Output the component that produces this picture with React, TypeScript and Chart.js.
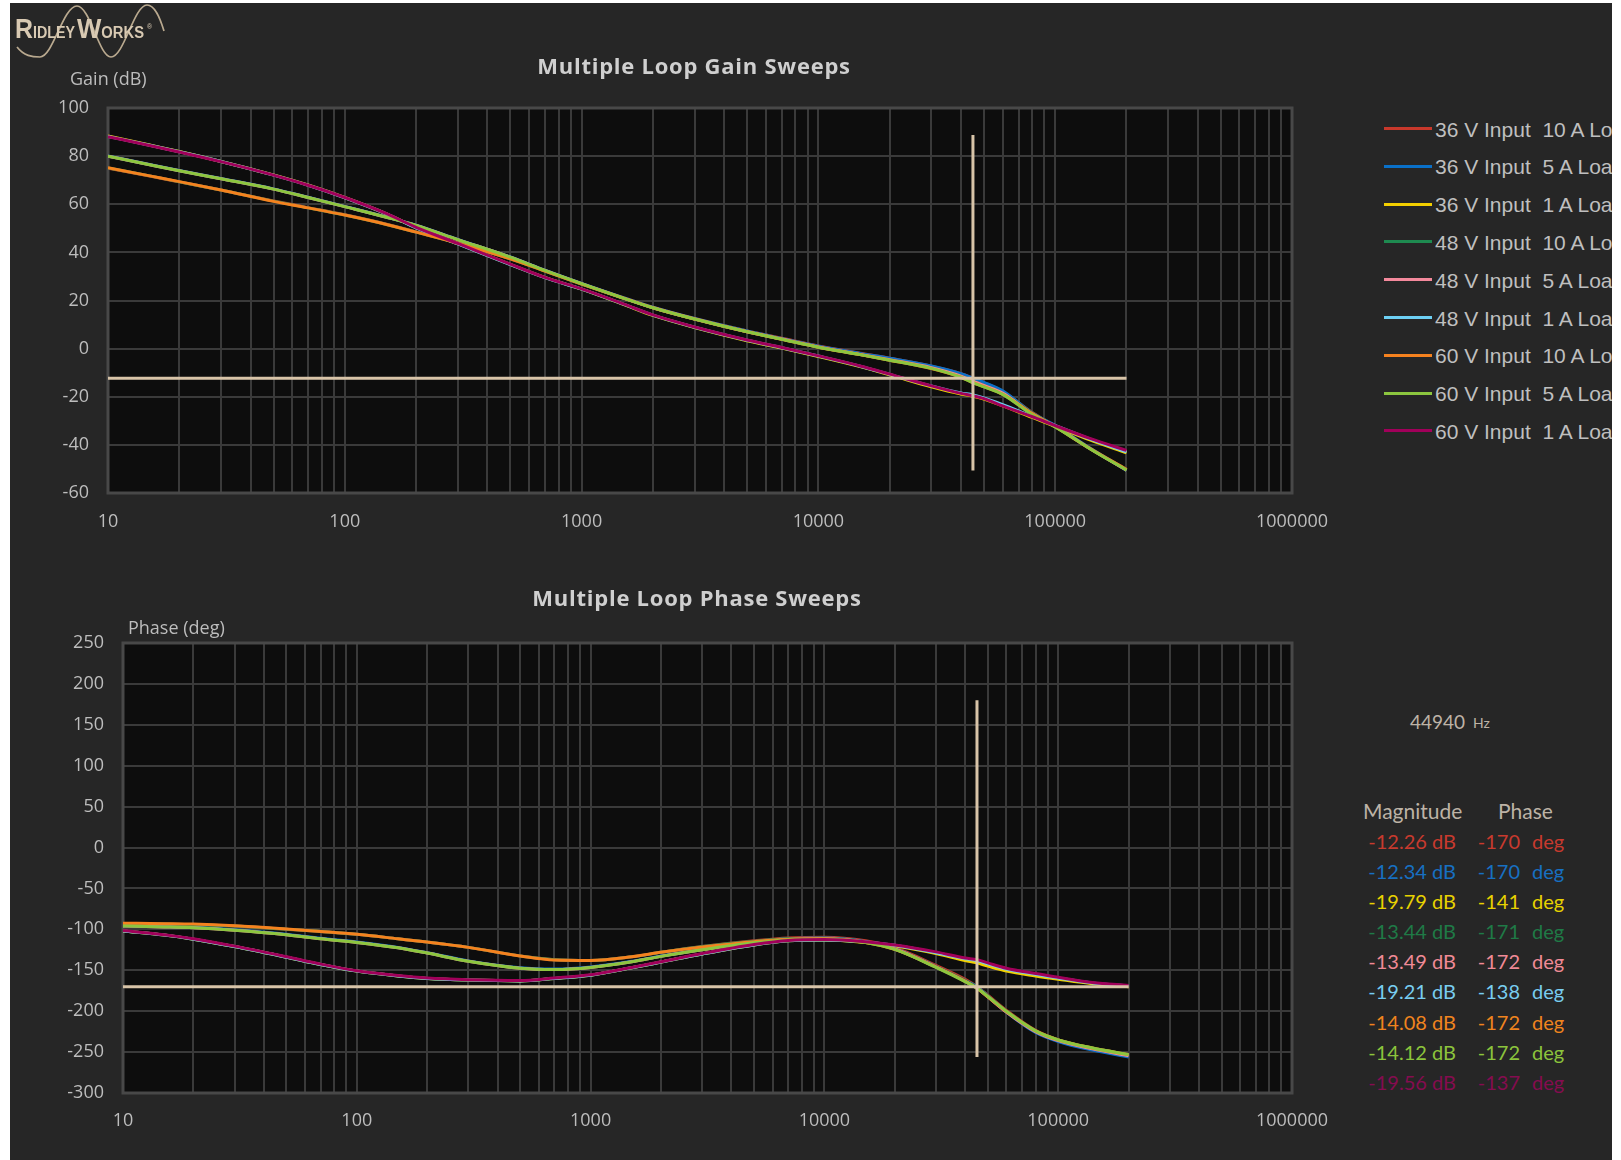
import React, { useEffect, useRef } from "react";
import { Chart, registerables } from "chart.js";

Chart.register(...registerables);

// ---------------- DATA ----------------
const FREQ_HZ = [10, 15, 20, 30, 50, 70, 100, 150, 200, 300, 500, 700, 1000, 1500, 2000, 3000, 5000, 7000, 10000, 15000, 20000, 30000, 40000, 44940, 50000, 60000, 80000, 100000, 140000, 200000];

const SERIES_LABELS = [
  "36 V Input  10 A Load",
  "36 V Input  5 A Load",
  "36 V Input  1 A Load",
  "48 V Input  10 A Load",
  "48 V Input  5 A Load",
  "48 V Input  1 A Load",
  "60 V Input  10 A Load",
  "60 V Input  5 A Load",
  "60 V Input  1 A Load",
];

const SERIES_COLORS = ["#c8382b", "#0a70c8", "#f3cf00", "#1e8a50", "#f4899c", "#6dd0f4", "#f5821f", "#8cc63f", "#a1005a"];
const READOUT_COLORS = ["#c83a2e", "#1770c2", "#e8d200", "#1f7a46", "#f08a96", "#78cdf0", "#f0841e", "#8cc43c", "#850c50"];

const GAIN_36V_10A = [75.0, 71.7, 69.3, 65.9, 61.4, 58.6, 55.6, 51.7, 48.5, 43.9, 37.4, 32.3, 26.9, 21.2, 17.2, 12.5, 7.3, 4.3, 1.1, -1.9, -4.0, -7.3, -10.4, -12.26, -14.2, -17.8, -26.5, -32.2, -41.3, -50.2];
const GAIN_36V_5A = [80.1, 76.5, 74.0, 70.7, 66.4, 62.9, 59.1, 54.7, 51.3, 45.4, 38.1, 32.6, 27.1, 21.2, 17.2, 12.5, 7.3, 4.2, 1.0, -2.0, -4.0, -7.2, -10.4, -12.34, -14.0, -17.5, -26.8, -32.0, -41.3, -50.6];
const GAIN_36V_1A = [88.4, 84.6, 81.9, 77.8, 72.2, 68.0, 62.8, 56.0, 50.3, 43.6, 35.0, 29.6, 24.7, 18.4, 13.8, 8.8, 3.3, 0.2, -3.3, -7.5, -10.9, -15.9, -18.9, -19.79, -21.0, -23.8, -28.6, -32.3, -37.9, -43.3];
const GAIN_48V_10A = [75.1, 71.8, 69.3, 65.9, 61.3, 58.5, 55.5, 51.6, 48.4, 43.8, 37.3, 32.2, 26.8, 21.0, 17.0, 12.3, 7.1, 4.0, 0.7, -2.4, -4.6, -8.0, -11.4, -13.44, -15.3, -18.6, -26.8, -32.4, -41.4, -50.3];
const GAIN_48V_5A = [80.0, 76.4, 73.9, 70.6, 66.3, 62.8, 59.0, 54.6, 51.2, 45.3, 38.0, 32.5, 27.0, 21.0, 17.0, 12.3, 7.0, 4.0, 0.7, -2.4, -4.6, -7.9, -11.4, -13.49, -15.3, -18.5, -27.2, -32.3, -41.5, -50.5];
const GAIN_48V_1A = [88.2, 84.5, 81.8, 77.8, 72.1, 67.9, 62.7, 56.0, 50.2, 43.5, 34.9, 29.5, 24.7, 18.5, 13.9, 8.9, 3.5, 0.4, -3.1, -7.3, -10.7, -15.5, -18.4, -19.21, -20.5, -23.3, -28.2, -31.9, -37.5, -42.9];
const GAIN_60V_10A = [75.2, 71.8, 69.4, 65.9, 61.2, 58.5, 55.5, 51.6, 48.4, 43.8, 37.3, 32.2, 26.8, 21.0, 17.0, 12.3, 7.0, 3.9, 0.6, -2.5, -4.8, -8.3, -11.9, -14.08, -15.8, -19.0, -27.0, -32.5, -41.5, -50.3];
const GAIN_60V_5A = [80.0, 76.4, 73.9, 70.6, 66.3, 62.8, 59.0, 54.6, 51.2, 45.3, 38.0, 32.5, 27.0, 21.0, 17.0, 12.3, 7.0, 3.9, 0.6, -2.5, -4.8, -8.2, -11.9, -14.12, -15.9, -19.0, -27.5, -32.5, -41.6, -50.5];
const GAIN_60V_1A = [88.1, 84.4, 81.7, 77.7, 72.1, 67.9, 62.8, 56.1, 50.4, 43.7, 35.1, 29.6, 24.8, 18.6, 14.0, 9.0, 3.6, 0.5, -3.0, -7.2, -10.6, -15.5, -18.6, -19.56, -20.8, -23.8, -28.3, -32.0, -37.3, -42.3];

const PHASE_36V_10A = [-93, -93.5, -94, -96, -100, -102.5, -106, -111.5, -115.5, -122, -132.5, -137, -138, -133.5, -128, -121, -114, -110.5, -109.5, -114, -122.5, -144, -161, -170, -180.5, -199, -223.5, -235, -245.5, -254];
const PHASE_36V_5A = [-95.5, -96.5, -97.5, -100.5, -106, -111, -115.5, -122, -128.5, -138.5, -147, -148.5, -146, -139, -132.5, -124.5, -115.5, -111.5, -110.5, -115, -123.5, -145.5, -163, -170, -181.5, -201, -226, -237, -247.5, -256];
const PHASE_36V_1A = [-102, -107, -112, -121, -134, -143, -151, -157, -160, -162, -163, -160, -156, -147, -140, -130, -119, -114, -113, -116, -120, -129.5, -138, -141, -145, -151, -157, -161, -166.5, -170];
const PHASE_48V_10A = [-93, -93.5, -94, -96, -100, -102.5, -106, -111.5, -115.5, -122, -132.5, -137, -138, -133.5, -128, -121, -114.5, -111.5, -111, -115.5, -124, -145.5, -162.5, -171, -181.5, -200, -224, -235, -245, -253.5];
const PHASE_48V_5A = [-96, -97, -98, -101, -106.5, -111.5, -116, -122.5, -129, -139, -147.5, -149, -146.5, -139.5, -133, -125, -116, -112.5, -111.5, -115.5, -124, -146, -163.5, -172, -182.5, -201, -225, -236, -246, -254.5];
const PHASE_48V_1A = [-102, -107, -112, -121, -134, -143, -151, -157, -160, -162, -163, -160, -156, -147, -140, -130, -119, -114, -113, -115.5, -119.5, -128.5, -136, -138, -142, -148.5, -155, -159.5, -165.5, -169];
const PHASE_60V_10A = [-92.5, -93, -93.5, -95.5, -99.5, -102.5, -106, -111.5, -115.5, -122, -132.5, -137.5, -138, -133.5, -128, -121.5, -115, -112, -111.5, -116, -124.5, -146, -163.5, -172, -182.5, -200.5, -224, -235, -245, -253];
const PHASE_60V_5A = [-96, -97, -98, -101, -106.5, -111.5, -116, -122.5, -129, -139, -147.5, -149, -146.5, -139.5, -133, -125, -116.5, -113, -112, -116, -124.5, -146.5, -164, -172, -182, -200, -224, -235, -245, -253];
const PHASE_60V_1A = [-101.5, -106.5, -111.5, -120.5, -133.5, -142.5, -150.5, -156.5, -159.5, -161.5, -162.5, -159.5, -155.5, -146.5, -139.5, -129.5, -118.5, -113.5, -112.5, -115, -119, -127.5, -135, -137, -141, -147.5, -154, -158.5, -165, -168.5];

const GAIN_SERIES = [GAIN_36V_10A, GAIN_36V_5A, GAIN_36V_1A, GAIN_48V_10A, GAIN_48V_5A, GAIN_48V_1A, GAIN_60V_10A, GAIN_60V_5A, GAIN_60V_1A];
const PHASE_SERIES = [PHASE_36V_10A, PHASE_36V_5A, PHASE_36V_1A, PHASE_48V_10A, PHASE_48V_5A, PHASE_48V_1A, PHASE_60V_10A, PHASE_60V_5A, PHASE_60V_1A];

const CURSOR_HZ = 44940;
const CURSOR_END_HZ = 200000;
const MAG_AT_CURSOR = ["-12.26", "-12.34", "-19.79", "-13.44", "-13.49", "-19.21", "-14.08", "-14.12", "-19.56"];
const PHASE_AT_CURSOR = ["-170", "-170", "-141", "-171", "-172", "-138", "-172", "-172", "-137"];
const GAIN_CURSOR_LEVEL = -12.26;
const PHASE_CURSOR_LEVEL = -170;
const GAIN_CURSOR_SPAN = [88.8, -50.6];
const PHASE_CURSOR_SPAN = [180, -256];

const X_MIN = 10;
const X_MAX = 1000000;
const X_LABEL_VALUES = [10, 100, 1000, 10000, 100000, 1000000];
const GAIN_AXIS = { min: -60, max: 100, step: 20 };
const PHASE_AXIS = { min: -300, max: 250, step: 50 };

// ---------------- STYLE ----------------
const PAGE_BG = "#262626";
const PLOT_BG = "#0d0d0d";
const GRID = "#3a3a3a";
const FRAME = "#484848";
const TICK = "#bdbdbd";
const CURSOR_COLOR = "#d8c4a8";
const SANS = "'Open Sans', 'Noto Sans', sans-serif";

function gridTicks(): number[] {
  const t: number[] = [];
  for (let d = X_MIN; d < X_MAX; d *= 10) for (let m = 1; m < 10; m++) t.push(m * d);
  t.push(X_MAX);
  return t;
}

const plotFrame = {
  id: "plotFrame",
  beforeDraw(chart: any) {
    const { ctx, chartArea } = chart;
    ctx.save();
    ctx.fillStyle = PLOT_BG;
    ctx.fillRect(chartArea.left, chartArea.top, chartArea.right - chartArea.left, chartArea.bottom - chartArea.top);
    ctx.restore();
  },
  beforeDatasetsDraw(chart: any) {
    const { ctx, chartArea } = chart;
    ctx.save();
    ctx.strokeStyle = FRAME;
    ctx.lineWidth = 3;
    ctx.strokeRect(chartArea.left, chartArea.top, chartArea.right - chartArea.left, chartArea.bottom - chartArea.top);
    ctx.restore();
  },
};

type Panel = {
  series: number[][];
  axis: { min: number; max: number; step: number };
  yAxisWidth: number;
  padTop: number;
  padRight: number;
  xAxisHeight: number;
  xTickPad: number;
  yTickPad: number;
  level: number;
  span: number[];
};

function buildChart(canvas: HTMLCanvasElement, p: Panel) {
  const datasets: any[] = p.series.map((vals, i) => ({
    label: SERIES_LABELS[i],
    data: FREQ_HZ.map((f, k) => ({ x: f, y: vals[k] })),
    borderColor: SERIES_COLORS[i],
    borderWidth: 3,
    pointRadius: 0,
    fill: false,
    cubicInterpolationMode: "monotone",
    order: 20 - i,
  }));
  datasets.push({
    label: "level",
    data: [{ x: X_MIN, y: p.level }, { x: CURSOR_END_HZ, y: p.level }],
    borderColor: CURSOR_COLOR,
    borderWidth: 3,
    pointRadius: 0,
    tension: 0,
    fill: false,
    order: 1,
  });
  datasets.push({
    label: "cursor",
    data: [{ x: CURSOR_HZ, y: p.span[0] }, { x: CURSOR_HZ, y: p.span[1] }],
    borderColor: CURSOR_COLOR,
    borderWidth: 3,
    pointRadius: 0,
    tension: 0,
    fill: false,
    order: 0,
  });
  const tickFont = { family: SANS, size: 18 };
  return new Chart(canvas, {
    type: "line",
    data: { datasets },
    options: {
      animation: false,
      responsive: false,
      maintainAspectRatio: false,
      events: [],
      layout: { padding: { left: 0, top: p.padTop, right: p.padRight, bottom: 0 } },
      plugins: { legend: { display: false }, tooltip: { enabled: false }, title: { display: false } },
      scales: {
        x: {
          type: "logarithmic",
          min: X_MIN,
          max: X_MAX,
          grid: { color: GRID, lineWidth: 2, drawTicks: false },
          border: { display: false },
          ticks: {
            autoSkip: false,
            maxRotation: 0,
            minRotation: 0,
            padding: p.xTickPad,
            color: TICK,
            font: tickFont,
            callback: (v: any) => (X_LABEL_VALUES.includes(Number(v)) ? String(v) : ""),
          },
          afterBuildTicks: (s: any) => {
            s.ticks = gridTicks().map((v) => ({ value: v }));
          },
          afterFit: (s: any) => {
            s.height = p.xAxisHeight;
            s.paddingLeft = 0;
            s.paddingRight = 0;
          },
        },
        y: {
          type: "linear",
          min: p.axis.min,
          max: p.axis.max,
          grid: { color: GRID, lineWidth: 2, drawTicks: false },
          border: { display: false },
          ticks: { stepSize: p.axis.step, padding: p.yTickPad, color: TICK, font: tickFont },
          afterFit: (s: any) => {
            s.width = p.yAxisWidth;
            s.paddingTop = 0;
            s.paddingBottom = 0;
          },
        },
      },
    } as any,
    plugins: [plotFrame as any],
  });
}

function Txt(props: { x: number; y: number; a?: "l" | "r" | "c"; s: React.CSSProperties; children: React.ReactNode }) {
  const a = props.a || "l";
  const tr = a === "l" ? "translateY(-50%)" : a === "r" ? "translate(-100%,-50%)" : "translate(-50%,-50%)";
  return (
    <div style={{ position: "absolute", left: props.x, top: props.y, transform: tr, whiteSpace: "pre", lineHeight: 1, ...props.s }}>
      {props.children}
    </div>
  );
}

export default function App() {
  const gainRef = useRef<HTMLCanvasElement>(null);
  const phaseRef = useRef<HTMLCanvasElement>(null);

  useEffect(() => {
    const g = buildChart(gainRef.current!, {
      series: GAIN_SERIES,
      axis: GAIN_AXIS,
      yAxisWidth: 108,
      padTop: 108,
      padRight: 53,
      xAxisHeight: 67,
      xTickPad: 18,
      yTickPad: 19,
      level: GAIN_CURSOR_LEVEL,
      span: GAIN_CURSOR_SPAN,
    });
    const ph = buildChart(phaseRef.current!, {
      series: PHASE_SERIES,
      axis: PHASE_AXIS,
      yAxisWidth: 123,
      padTop: 83,
      padRight: 53,
      xAxisHeight: 67,
      xTickPad: 17,
      yTickPad: 19,
      level: PHASE_CURSOR_LEVEL,
      span: PHASE_CURSOR_SPAN,
    });
    return () => {
      g.destroy();
      ph.destroy();
    };
  }, []);

  const label: React.CSSProperties = { fontFamily: SANS, fontSize: 18, color: TICK };
  const title: React.CSSProperties = { fontFamily: SANS, fontSize: 22, fontWeight: 700, color: "#cfcfcf", letterSpacing: 0.75 };
  const legendFont: React.CSSProperties = { fontFamily: "'Liberation Sans', Arial, sans-serif", fontSize: 21, color: "#bfbfbf" };
  const readFont = "Lato, 'Open Sans', sans-serif";
  const logoFont = "'Liberation Sans', Arial, sans-serif";

  return (
    <div style={{ position: "absolute", left: 0, top: 0, width: 1621, height: 1160, background: "#ffffff", overflow: "hidden" }}>
      <div style={{ position: "absolute", left: 10, top: 3, width: 1602, height: 1157, background: PAGE_BG, overflow: "hidden" }}>
        <div style={{ position: "absolute", left: -10, top: -3, width: 1621, height: 1160 }}>
          <canvas ref={gainRef} width={1345} height={560} style={{ position: "absolute", left: 0, top: 0 }} />
          <canvas ref={phaseRef} width={1345} height={600} style={{ position: "absolute", left: 0, top: 560 }} />

          <svg width={180} height={70} style={{ position: "absolute", left: 0, top: 0 }}>
            <path d="M 17 47 C 24 56, 32 57, 40 57 C 53 57, 63 6, 77 6 C 90 6, 99 57, 111 57 C 124 57, 134 5, 147 5 C 155 5, 160 18, 164 31" stroke="#b9a98f" strokeWidth={1.7} fill="none" />
            <text x={15} y={38} fill="#d8c9b2" fontFamily={logoFont} fontWeight={700} textLength={60} lengthAdjust="spacingAndGlyphs">
              <tspan fontSize={28}>R</tspan>
              <tspan fontSize={16}>IDLEY</tspan>
            </text>
            <text x={77} y={38} fill="#d8c9b2" fontFamily={logoFont} fontWeight={700} textLength={67} lengthAdjust="spacingAndGlyphs">
              <tspan fontSize={28}>W</tspan>
              <tspan fontSize={16}>ORKS</tspan>
            </text>
            <text x={147} y={29} fill="#d8c9b2" fontFamily={logoFont} fontSize={7}>®</text>
          </svg>

          <Txt x={70} y={78} s={label}>Gain (dB)</Txt>
          <Txt x={128} y={627} s={label}>Phase (deg)</Txt>
          <Txt x={694} y={65} a="c" s={title}>Multiple Loop Gain Sweeps</Txt>
          <Txt x={697} y={597} a="c" s={title}>Multiple Loop Phase Sweeps</Txt>

          {SERIES_LABELS.map((name, i) => {
            const y = 128.5 + i * 37.8;
            return (
              <React.Fragment key={name}>
                <div style={{ position: "absolute", left: 1384, top: y - 1.5, width: 48, height: 3, background: SERIES_COLORS[i] }} />
                <Txt x={1435} y={y} s={legendFont}>{name}</Txt>
              </React.Fragment>
            );
          })}

          <Txt x={1465} y={720.5} a="r" s={{ fontFamily: readFont, fontSize: 19, color: "#bdb3a6" }}>{String(CURSOR_HZ)}</Txt>
          <Txt x={1473} y={722.5} s={{ fontFamily: readFont, fontSize: 14, color: "#bdb3a6" }}>Hz</Txt>
          <Txt x={1363} y={810} s={{ fontFamily: readFont, fontSize: 21, color: "#bdb3a6" }}>Magnitude</Txt>
          <Txt x={1498} y={810} s={{ fontFamily: readFont, fontSize: 21, color: "#bdb3a6" }}>Phase</Txt>
          {MAG_AT_CURSOR.map((m, i) => {
            const y = 840.7 + i * 30.15;
            const st: React.CSSProperties = { fontFamily: readFont, fontSize: 20, color: READOUT_COLORS[i] };
            return (
              <React.Fragment key={"r" + i}>
                <Txt x={1456} y={y} a="r" s={st}>{m + " dB"}</Txt>
                <Txt x={1520} y={y} a="r" s={st}>{PHASE_AT_CURSOR[i]}</Txt>
                <Txt x={1532} y={y} s={st}>deg</Txt>
              </React.Fragment>
            );
          })}
        </div>
      </div>
    </div>
  );
}
